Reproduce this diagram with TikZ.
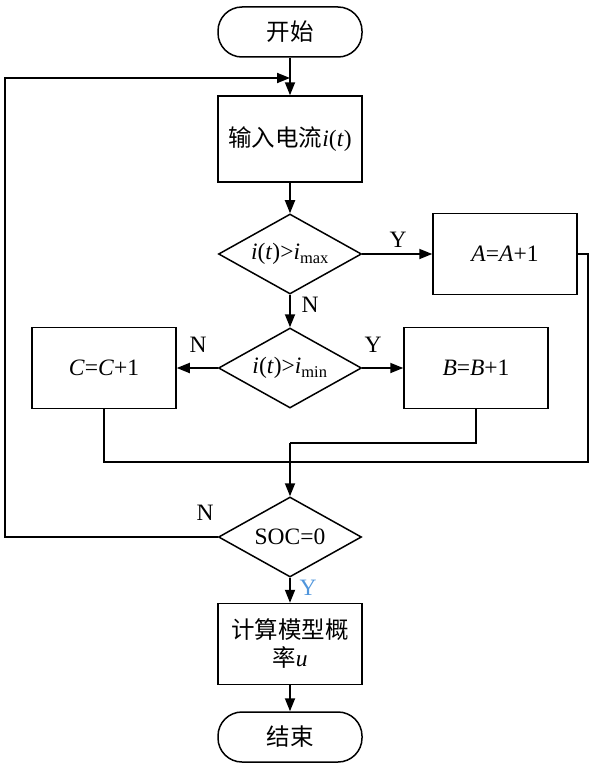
\documentclass[tikz,border=0pt]{standalone}
\usepackage{fontspec}
\setmainfont{Liberation Serif}
\newfontfamily\cjk{Noto Sans CJK SC}
\usetikzlibrary{shapes, arrows.meta, positioning}
\definecolor{yblue}{RGB}{80,150,220}
\tikzstyle{block}=[draw,fill=white,rectangle,line width=1.5pt,minimum width=144pt,minimum height=81pt,inner sep=2pt]
\tikzstyle{decision}=[draw,fill=white,diamond,line width=1.5pt,minimum width=143pt,minimum height=80pt,inner sep=0pt,shape aspect=1.8]
\tikzstyle{terminal}=[draw,fill=white,rectangle,rounded corners=24pt,line width=1.5pt,minimum width=144pt,minimum height=50pt]
\tikzstyle{every node}=[font=\fontsize{23.5}{28}\selectfont]
\tikzstyle{lbl}=[inner sep=0pt]
\newcommand{\zh}[1]{{\cjk #1}}
\newcommand{\var}[1]{\textit{#1}}

\begin{document}
\begin{tikzpicture}[x=1pt,y=-1pt,node distance=110pt,>={Triangle[length=13pt,width=10pt]},line width=1.8pt]
    \useasboundingbox (0,0) rectangle (591,768);
    \node[terminal] (start) at (290,32) {\zh{开始}};
    \node[block, below of=start, node distance=107pt, minimum height=86pt] (input) {\zh{输入电流}\var{i}(\var{t})};
    \node[decision, below of=input, node distance=115pt] (d1) {\var{i}(\var{t})>\var{i}\textsubscript{max}};
    \node[block, right of=d1, node distance=215pt] (A) {\var{A}=\var{A}+1};
    \node[decision, below of=d1, node distance=114pt] (d2) {\var{i}(\var{t})>\var{i}\textsubscript{min}};
    \node[block, right of=d2, node distance=186pt] (B) {\var{B}=\var{B}+1};
    \node[block, left of=d2, node distance=186pt] (C) {\var{C}=\var{C}+1};
    \node[decision, below of=d2, node distance=169pt] (d3) {SOC=0};
    \node[block, below of=d3, node distance=107pt, align=center] (calc) {\zh{计算模型概}\\\zh{率}\var{u}};
    \node[terminal, below of=calc, node distance=93pt] (end) {\zh{结束}};
    \node[lbl] (yA) at (398,240) {Y};
    \node[lbl] (nD) at (310,305) {N};
    \node[lbl] (yB) at (373,345) {Y};
    \node[lbl] (nC) at (198,345) {N};
    \node[lbl] (nL) at (205,513) {N};
    \node[lbl, text=yblue] (yE) at (308,588) {Y};
    \coordinate (lp) at (5,78);
    \coordinate (ent) at (290,78);
    \coordinate (j1) at (290,443);
    \coordinate (j2) at (290,462);
    \coordinate (aturn) at (588,462);
    \draw[->] (start) -- (input);
    \draw[->] (input) -- (d1);
    \draw[->] (d1) -- (A);
    \draw[->] (d1) -- (d2);
    \draw[->] (d2) -- (B);
    \draw[->] (d2) -- (C);
    \draw (B.south) |- (j1);
    \draw (C.south) |- (j2);
    \draw (A.east) -| (aturn) -- (j2);
    \draw[->] (j1) -- (d3);
    \draw[->] (d3.west) -| (lp) -- (ent);
    \draw[->] (d3) -- (calc);
    \draw[->] (calc) -- (end);
\end{tikzpicture}
\end{document}
